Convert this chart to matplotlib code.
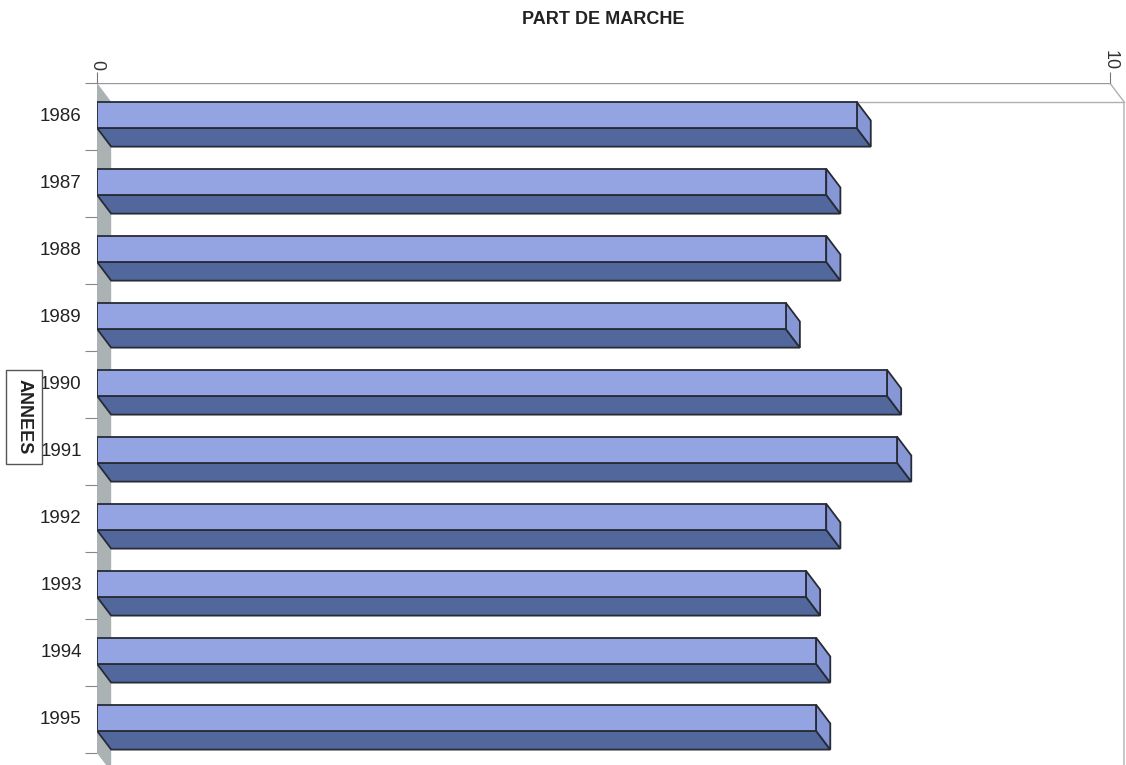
import matplotlib.pyplot as plt
from matplotlib.patches import Polygon

plt.rcParams['font.family'] = ['Liberation Sans', 'DejaVu Sans']

annees = ['1986', '1987', '1988', '1989', '1990', '1991', '1992', '1993', '1994', '1995']
part = [7.5, 7.2, 7.2, 6.8, 7.8, 7.9, 7.2, 7.0, 7.1, 7.1]

# couleurs des faces
c_face = '#94A4E2'
c_dessous = '#52679C'
c_bout = '#8797D6'
c_mur = '#AAB2B4'
c_bord = '#262B35'

dx, dy = 0.14, 0.28  # profondeur 3D
h0, h1 = 0.28, 0.67

fig = plt.figure(figsize=(11.26, 7.65), dpi=100)
ax = fig.add_axes([97 / 1126, 0, 1 - 97 / 1126, 1 - 83 / 765])
ax.set_xlim(0, 10.16)
ax.set_ylim(10.18, 0)

# mur de gauche
ax.add_patch(Polygon([(0, 0), (dx, dy), (dx, 10 + dy), (0, 10)], closed=True,
                     fc=c_mur, ec='none', zorder=1))
# cadre
ax.plot([0, 10], [0, 0], color='#9A9A9A', lw=1, zorder=1)
ax.plot([dx, 10 + dx], [dy, dy], color='#B0B0B0', lw=1, zorder=1)
ax.plot([10, 10 + dx, 10 + dx], [0, dy, 10.3], color='#B0B0B0', lw=1, zorder=1)

for i, v in enumerate(part):
    y0, y1 = i + h0, i + h1
    ax.add_patch(Polygon([(0, y1), (v, y1), (v + dx, y1 + dy), (dx, y1 + dy)], closed=True,
                         fc=c_dessous, ec=c_bord, lw=1.3, zorder=3))
    ax.add_patch(Polygon([(v, y0), (v + dx, y0 + dy), (v + dx, y1 + dy), (v, y1)], closed=True,
                         fc=c_bout, ec=c_bord, lw=1.3, zorder=3))
    ax.add_patch(Polygon([(0, y0), (v, y0), (v, y1), (0, y1)], closed=True,
                         fc=c_face, ec=c_bord, lw=1.3, zorder=4))

ax.xaxis.tick_top()
ax.set_xticks([0, 10])
ax.set_xticklabels(['0', '10'], rotation=-90, fontsize=13, color='#333333')
ax.tick_params(axis='x', length=8, color='#777777', pad=1)

ax.set_yticks(range(11))
ax.set_yticklabels([])
ax.tick_params(axis='y', which='major', length=9, color='#888888')
ax.set_yticks([i + (h0 + h1) / 2 for i in range(10)], minor=True)
ax.set_yticklabels(annees, minor=True, fontsize=13.5, color='#222222')
ax.tick_params(axis='y', which='minor', length=0, pad=11)

for s in ax.spines.values():
    s.set_visible(False)

fig.text(0.536, 1 - 20 / 765, 'PART DE MARCHE', ha='center', va='center',
         fontsize=13, fontweight='bold', color='#222222')
fig.text(24 / 1126, 1 - 417 / 765, 'ANNEES', rotation=-90, ha='center', va='center',
         fontsize=13, fontweight='bold', color='#222222',
         bbox=dict(boxstyle='square,pad=0.5', fc='white', ec='#555555', lw=1))

fig.savefig('out.png', dpi=100)
